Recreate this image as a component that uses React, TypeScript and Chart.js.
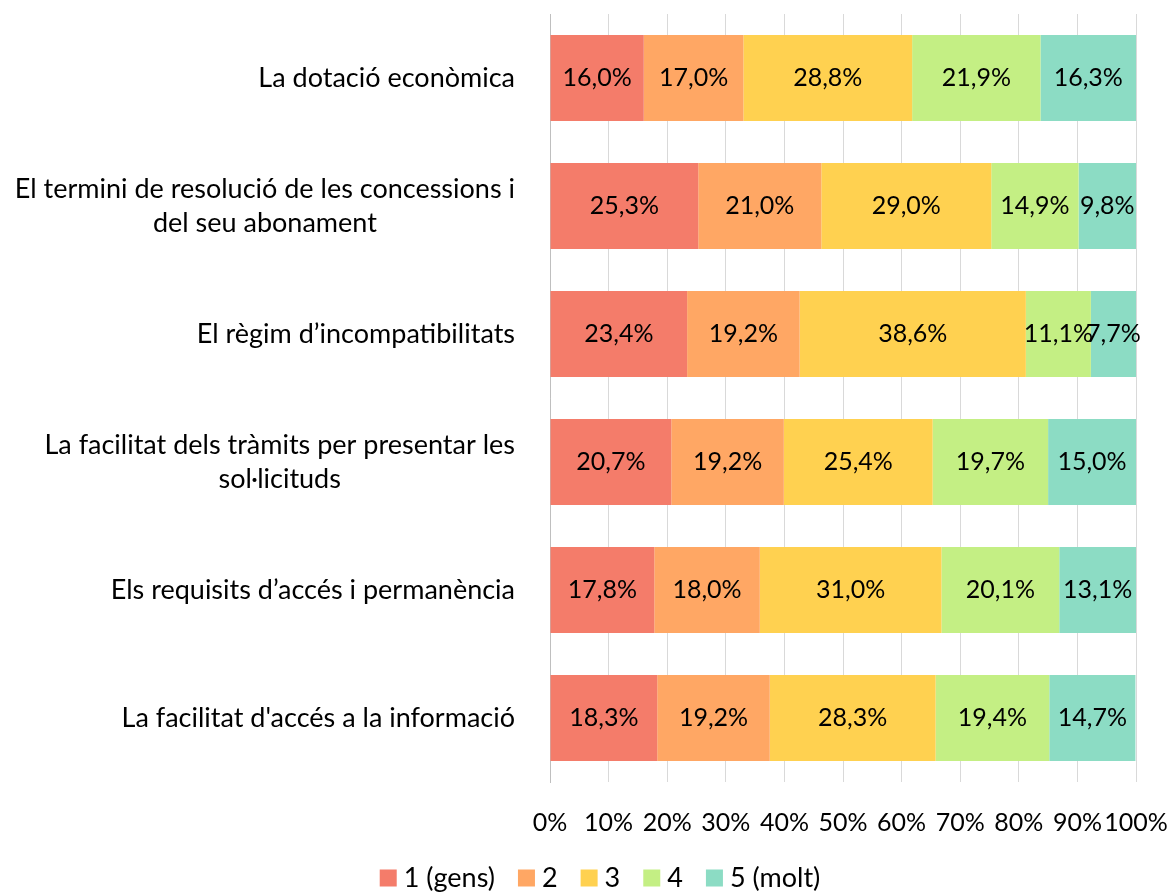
import React, { useEffect, useRef } from "react";
import { Chart, registerables } from "chart.js";

Chart.register(...registerables);

const categories: string[][] = [
  ["La dotació econòmica"],
  ["El termini de resolució de les concessions i", "del seu abonament"],
  ["El règim d’incompatibilitats"],
  ["La facilitat dels tràmits per presentar les", "sol·licituds"],
  ["Els requisits d’accés i permanència"],
  ["La facilitat d'accés a la informació"],
];

const seriesNames = ["1 (gens)", "2", "3", "4", "5 (molt)"];
const s1 = [16.0, 25.3, 23.4, 20.7, 17.8, 18.3];
const s2 = [17.0, 21.0, 19.2, 19.2, 18.0, 19.2];
const s3 = [28.8, 29.0, 38.6, 25.4, 31.0, 28.3];
const s4 = [21.9, 14.9, 11.1, 19.7, 20.1, 19.4];
const s5 = [16.3, 9.8, 7.7, 15.0, 13.1, 14.7];
const colors = ["#F47C6A", "#FFA764", "#FFD150", "#C4EF84", "#8CDCC4"];
const xTicks = [0, 10, 20, 30, 40, 50, 60, 70, 80, 90, 100];

const FONT = "Lato";
const FS_LABEL = 27;
const FS_NUM = 25;

const fmt = (v: number) => v.toFixed(1).replace(".", ",") + "%";

const labelPlugin = {
  id: "customLabels",
  afterDatasetsDraw(chart: any) {
    const ctx = chart.ctx;
    ctx.save();
    ctx.fillStyle = "#000";
    ctx.textAlign = "center";
    ctx.textBaseline = "middle";
    ctx.font = `${FS_NUM}px ${FONT}`;
    chart.data.datasets.forEach((ds: any, di: number) => {
      const meta = chart.getDatasetMeta(di);
      meta.data.forEach((el: any, i: number) => {
        const cx = (el.x + el.base) / 2;
        ctx.fillText(fmt(ds.data[i]), cx, el.y);
      });
    });
    // y category labels
    ctx.font = `${FS_LABEL}px ${FONT}`;
    const yScale = chart.scales.y;
    const right = chart.chartArea.left - 35;
    const lh = 34;
    categories.forEach((lines, i) => {
      const cy = yScale.getPixelForValue(i);
      let maxW = 0;
      lines.forEach((l) => (maxW = Math.max(maxW, ctx.measureText(l).width)));
      const center = right - maxW / 2;
      const top = cy - ((lines.length - 1) * lh) / 2;
      lines.forEach((l, j) => ctx.fillText(l, center, top + j * lh));
    });
    // legend
    const box = 17;
    const gapBoxText = 7;
    const gapItems = 23;
    const widths = seriesNames.map((n) => ctx.measureText(n).width);
    const total =
      widths.reduce((a, w) => a + box + gapBoxText + w, 0) + gapItems * (seriesNames.length - 1);
    let x = 600 - total / 2;
    const ly = chart.height - 15;
    ctx.textAlign = "left";
    seriesNames.forEach((n, i) => {
      ctx.fillStyle = colors[i];
      ctx.fillRect(x, ly - box / 2, box, box);
      x += box + gapBoxText;
      ctx.fillStyle = "#000";
      ctx.fillText(n, x, ly);
      x += widths[i] + gapItems;
    });
    ctx.restore();
  },
};

export default function App() {
  const ref = useRef<HTMLCanvasElement>(null);
  useEffect(() => {
    const data = [s1, s2, s3, s4, s5];
    const chart = new Chart(ref.current!, {
      type: "bar",
      data: {
        labels: categories.map((c) => c.join(" ")),
        datasets: seriesNames.map((n, i) => ({
          label: n,
          data: data[i],
          backgroundColor: colors[i],
          borderWidth: 0,
          categoryPercentage: 0.67,
          barPercentage: 1,
        })),
      },
      options: {
        indexAxis: "y",
        animation: false,
        responsive: true,
        maintainAspectRatio: false,
        layout: { padding: { top: 14, right: 39, left: 0, bottom: 29 } },
        scales: {
          x: {
            stacked: true,
            min: 0,
            max: 100,
            afterBuildTicks: (scale: any) => {
              scale.ticks = xTicks.map((v) => ({ value: v }));
            },
            afterFit: (scale: any) => {
              scale.paddingRight = 0;
              scale.paddingLeft = 0;
            },
            ticks: {
              callback: (v: any) => v + "%",
              font: { family: FONT, size: FS_NUM },
              color: "#000",
              padding: 26,
              maxRotation: 0,
              autoSkip: false,
            },
            grid: { color: "#D9D9D9", lineWidth: 1, drawTicks: false },
            border: { display: false },
          },
          y: {
            stacked: true,
            ticks: { display: false },
            grid: { display: false },
            border: { display: true, color: "#BFBFBF", width: 1 },
            afterFit: (scale: any) => {
              scale.width = 550;
            },
          },
        },
        plugins: {
          legend: { display: false },
          tooltip: { enabled: false },
        },
      },
      plugins: [labelPlugin],
    });
    return () => chart.destroy();
  }, []);
  return (
    <div style={{ position: "absolute", left: 0, top: 0, width: 1175, height: 893 }}>
      <canvas ref={ref} />
    </div>
  );
}
